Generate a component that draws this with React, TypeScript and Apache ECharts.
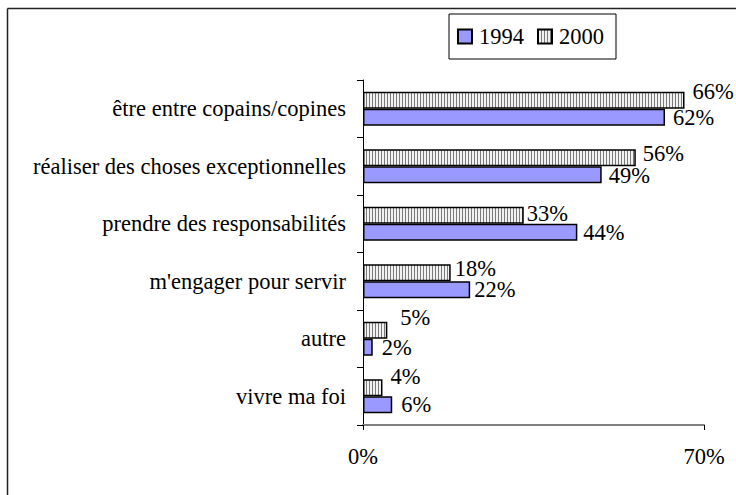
import React, { useEffect, useRef } from "react";
import * as echarts from "echarts";

const categories = [
  "être entre copains/copines",
  "réaliser des choses exceptionnelles",
  "prendre des responsabilités",
  "m'engager pour servir",
  "autre",
  "vivre ma foi",
];
const values1994 = [62, 49, 44, 22, 2, 6];
const values2000 = [66, 56, 33, 18, 5, 4];
const xTicks = [0, 70];

// label nudges (pixels), not data
const nudge1994 = [[8, 0], [7, 1], [6, 0], [4, 0], [9, 0], [9, 0]];
const nudge2000 = [[8, -9], [7, -4], [3, -2], [4, -4], [13, -13], [8, -11]];

const FONT = "Times New Roman";
const FS = 22.5;

function makeStripes(): HTMLCanvasElement {
  const c = document.createElement("canvas");
  c.width = 3;
  c.height = 3;
  const ctx = c.getContext("2d")!;
  ctx.fillStyle = "#f2f2f2";
  ctx.fillRect(0, 0, 3, 3);
  ctx.fillStyle = "#7a7a7a";
  ctx.fillRect(0, 0, 1, 3);
  return c;
}

export default function App() {
  const ref = useRef<HTMLDivElement>(null);
  useEffect(() => {
    if (!ref.current) return;
    const chart = echarts.init(ref.current, null, { renderer: "svg" });
    const stripes = { image: makeStripes(), repeat: "repeat" };
    const labelBase = {
      show: true,
      position: "right",
      distance: 0,
      color: "#000",
      fontFamily: FONT,
      fontSize: FS,
      formatter: (p: any) => p.value + "%",
    };
    chart.setOption({
      animation: false,
      backgroundColor: "#fff",
      textStyle: { fontFamily: FONT },
      graphic: [
        {
          type: "line",
          shape: { x1: 7.5, y1: 8.5, x2: 740, y2: 8.5 },
          style: { stroke: "#222", lineWidth: 1.5 },
          silent: true,
        },
        {
          type: "line",
          shape: { x1: 7.5, y1: 8.5, x2: 7.5, y2: 500 },
          style: { stroke: "#222", lineWidth: 1.5 },
          silent: true,
        },
      ],
      legend: {
        data: ["1994", "2000"],
        left: 449,
        top: 14,
        orient: "horizontal",
        borderColor: "#000",
        borderWidth: 1,
        padding: [11, 12, 11, 8],
        itemWidth: 14,
        itemHeight: 14,
        itemGap: 13,
        icon: "rect",
        textStyle: { color: "#000", fontFamily: FONT, fontSize: FS, padding: [0, 0, 0, 2] },
      },
      grid: { left: 363, right: 32, top: 80, bottom: 70, containLabel: false },
      xAxis: {
        type: "value",
        min: xTicks[0],
        max: xTicks[1],
        interval: xTicks[1] - xTicks[0],
        axisLine: { show: true, lineStyle: { color: "#808080", width: 2 } },
        axisTick: { show: true, length: 5, lineStyle: { color: "#000", width: 1 } },
        splitLine: { show: false },
        axisLabel: {
          margin: 20,
          color: "#000",
          fontFamily: FONT,
          fontSize: FS,
          formatter: "{value}%",
        },
      },
      yAxis: {
        type: "category",
        data: categories,
        inverse: true,
        axisLine: { show: true, lineStyle: { color: "#000", width: 1 } },
        axisTick: { show: true, length: 6, lineStyle: { color: "#000", width: 1 } },
        axisLabel: {
          margin: 17,
          color: "#000",
          fontFamily: FONT,
          fontSize: FS,
        },
      },
      series: [
        {
          name: "2000",
          type: "bar",
          barWidth: 17,
          barGap: "0%",
          itemStyle: { color: stripes, borderColor: "#000", borderWidth: 1.5 },
          data: values2000.map((v, i) => ({
            value: v,
            label: { ...labelBase, offset: nudge2000[i] },
          })),
          label: labelBase,
        },
        {
          name: "1994",
          type: "bar",
          barWidth: 17,
          barGap: "0%",
          itemStyle: { color: "#9999ff", borderColor: "#000", borderWidth: 1.5 },
          data: values1994.map((v, i) => ({
            value: v,
            label: { ...labelBase, offset: nudge1994[i] },
          })),
          label: labelBase,
        },
      ],
    });
    return () => chart.dispose();
  }, []);
  return (
    <div
      ref={ref}
      style={{ position: "fixed", left: 0, top: 0, width: 736, height: 495 }}
    />
  );
}
